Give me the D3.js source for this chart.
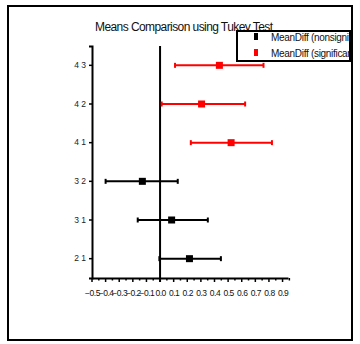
<!DOCTYPE html>
<html lang="en">
<head>
<meta charset="utf-8">
<title>Means Comparison using Tukey Test</title>
<script src="https://d3js.org/d3.v7.min.js"></script>
<style>
  body { margin: 0; padding: 0; background: #fff; }
  svg { display: block; font-family: 'Liberation Sans', Arial, sans-serif; }
</style>
</head>
<body>
<div id="chart"></div>
<script>
// pairs compared (bottom to top)
var pairs = ["2 1", "3 1", "3 2", "4 1", "4 2", "4 3"];
var meanDiff = [0.216, 0.085, -0.13, 0.522, 0.305, 0.436];
var lowerCI  = [-0.005, -0.164, -0.40, 0.226, 0.012, 0.110];
var upperCI  = [0.447, 0.351, 0.130, 0.822, 0.625, 0.760];
var significant = [false, false, false, true, true, true];
var xTicks = [-0.5, -0.4, -0.3, -0.2, -0.1, 0, 0.1, 0.2, 0.3, 0.4, 0.5, 0.6, 0.7, 0.8, 0.9];
var legendLabels = ["MeanDiff (nonsignificant)", "MeanDiff (significant)"];

var W = 360, H = 344;
var svg = d3.select("#chart").append("svg")
  .attr("width", W).attr("height", H);

// outer frame
svg.append("rect")
  .attr("x", 8).attr("y", 6).attr("width", 344).attr("height", 334)
  .attr("fill", "none").attr("stroke", "#000").attr("stroke-width", 2);

var x = d3.scaleLinear().domain([-0.5, 0.94]).range([92, 288]);
var y = d3.scaleBand().domain(pairs).range([278, 46]);
var yc = function(p) { return y(p) + y.bandwidth() / 2; };

// title
svg.append("text")
  .attr("x", 184).attr("y", 31)
  .attr("text-anchor", "middle")
  .attr("font-size", 12)
  .attr("fill", "#111")
  .attr("textLength", 178)
  .text("Means Comparison using Tukey Test");

// x axis with minor ticks
var minor = d3.range(-0.5, 0.951, 0.05);
svg.append("g")
  .attr("transform", "translate(0,278)")
  .selectAll("line").data(minor).enter().append("line")
    .attr("x1", function(d) { return x(d); })
    .attr("x2", function(d) { return x(d); })
    .attr("y1", 0)
    .attr("y2", function(d, i) { return i % 2 === 0 ? 4 : 2.5; })
    .attr("stroke", "#000").attr("stroke-width", 1.5);

var xAxis = svg.append("g")
  .attr("transform", "translate(0,278)")
  .call(d3.axisBottom(x).tickValues(xTicks).tickFormat(d3.format(".1f")).tickSize(0).tickPadding(12));
xAxis.select(".domain").attr("stroke", "#000").attr("stroke-width", 2);
xAxis.selectAll("text").attr("font-size", 8.5).attr("fill", "#111")
  .attr("font-family", "'Liberation Sans', Arial, sans-serif")
  .attr("letter-spacing", -0.5);

// y axis
var yAxis = svg.append("g")
  .attr("transform", "translate(92,0)")
  .call(d3.axisLeft(y).tickSize(3).tickPadding(3));
yAxis.select(".domain").attr("stroke", "#000").attr("stroke-width", 2);
yAxis.selectAll(".tick line").attr("stroke", "#000").attr("stroke-width", 1.5);
yAxis.selectAll("text").attr("font-size", 8.5).attr("fill", "#222")
  .attr("font-family", "'Liberation Sans', Arial, sans-serif");

// zero line
svg.append("line")
  .attr("x1", x(0)).attr("x2", x(0))
  .attr("y1", 46).attr("y2", 282)
  .attr("stroke", "#000").attr("stroke-width", 2);

// error bars
var rows = pairs.map(function(p, i) {
  return { pair: p, mean: meanDiff[i], lo: lowerCI[i], hi: upperCI[i], col: significant[i] ? "#ff0000" : "#000" };
});
var g = svg.append("g");
var bar = g.selectAll("g.bar").data(rows).enter().append("g").attr("class", "bar");
bar.append("line")
  .attr("x1", function(d) { return x(d.lo); })
  .attr("x2", function(d) { return x(d.hi); })
  .attr("y1", function(d) { return yc(d.pair); })
  .attr("y2", function(d) { return yc(d.pair); })
  .attr("stroke", function(d) { return d.col; })
  .attr("stroke-width", 2);
["lo", "hi"].forEach(function(k) {
  bar.append("line")
    .attr("x1", function(d) { return x(d[k]); })
    .attr("x2", function(d) { return x(d[k]); })
    .attr("y1", function(d) { return yc(d.pair) - 2.5; })
    .attr("y2", function(d) { return yc(d.pair) + 2.5; })
    .attr("stroke", function(d) { return d.col; })
    .attr("stroke-width", 2);
});
bar.append("rect")
  .attr("x", function(d) { return x(d.mean) - 3.5; })
  .attr("y", function(d) { return yc(d.pair) - 3.5; })
  .attr("width", 7).attr("height", 7)
  .attr("fill", function(d) { return d.col; });

// legend (text is cut by the box, as in the original)
svg.append("clipPath").attr("id", "legclip")
  .append("rect").attr("x", 237).attr("y", 31).attr("width", 112).attr("height", 30);
var leg = svg.append("g");
leg.append("rect")
  .attr("x", 237).attr("y", 31).attr("width", 113).attr("height", 30)
  .attr("fill", "#fff").attr("stroke", "#000").attr("stroke-width", 2);
var legCols = ["#000", "#ff0000"];
legendLabels.forEach(function(t, i) {
  leg.append("rect")
    .attr("x", 254).attr("y", 33 + i * 16).attr("width", 4).attr("height", 7)
    .attr("fill", legCols[i]);
  leg.append("text")
    .attr("x", 271).attr("y", 41 + i * 16)
    .attr("font-size", 10).attr("fill", "#111")
    .attr("letter-spacing", -0.3)
    .attr("clip-path", "url(#legclip)")
    .text(t);
});
</script>
</body>
</html>
